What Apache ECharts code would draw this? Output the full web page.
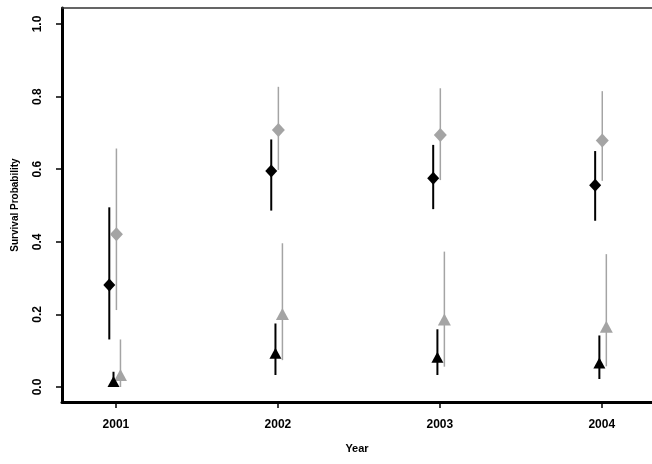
<!DOCTYPE html>
<html>
<head>
<meta charset="utf-8">
<script src="https://cdn.jsdelivr.net/npm/echarts@6/dist/echarts.min.js"></script>
<style>html,body{margin:0;padding:0;background:#fff;}#c{width:652px;height:464px;}</style>
</head>
<body>
<div id="c"></div>
<script>
const years = [2001, 2002, 2003, 2004];
const yTicks = [0, 0.2, 0.4, 0.6, 0.8, 1.0];

// black diamonds
const blackDiamond = [0.281, 0.595, 0.575, 0.556];
const blackDiamondLow = [0.131, 0.486, 0.490, 0.458];
const blackDiamondHigh = [0.495, 0.682, 0.667, 0.650];
// grey diamonds
const greyDiamond = [0.421, 0.708, 0.694, 0.679];
const greyDiamondLow = [0.212, 0.598, 0.570, 0.568];
const greyDiamondHigh = [0.657, 0.827, 0.823, 0.815];
// black triangles
const blackTriangle = [0.015, 0.093, 0.082, 0.066];
const blackTriangleLow = [0.0, 0.033, 0.033, 0.022];
const blackTriangleHigh = [0.042, 0.175, 0.159, 0.142];
// grey triangles
const greyTriangle = [0.033, 0.201, 0.186, 0.166];
const greyTriangleLow = [0.0, 0.074, 0.056, 0.057];
const greyTriangleHigh = [0.131, 0.396, 0.373, 0.366];

const GREY = '#a4a4a4';
const FONT = 'Liberation Sans';

function errSeries(name, offset, low, high, color, width) {
  return {
    name: name + ' CI', type: 'custom',
    data: years.map((y, i) => [y + offset, low[i], high[i]]),
    renderItem: function (params, api) {
      const p1 = api.coord([api.value(0), api.value(1)]);
      const p2 = api.coord([api.value(0), api.value(2)]);
      return { type: 'line', shape: { x1: p1[0], y1: p1[1], x2: p2[0], y2: p2[1] },
        style: { stroke: color, lineWidth: width } };
    },
    silent: true, z: 2
  };
}
function ptSeries(name, offset, vals, color, symbol, size) {
  return {
    name: name, type: 'scatter', symbol: symbol, symbolSize: size,
    data: years.map((y, i) => [y + offset, vals[i]]),
    itemStyle: { color: color, opacity: 1 }, z: 3
  };
}

const chart = echarts.init(document.getElementById('c'), null, { renderer: 'canvas' });
chart.setOption({
  animation: false,
  backgroundColor: '#fff',
  grid: { left: 62, right: 0, top: 8, bottom: 62, containLabel: false },
  xAxis: [{
    type: 'value', min: 2000.667, max: 2004.31,
    axisLine: { show: true, onZero: false, lineStyle: { color: '#000', width: 3 } },
    axisTick: { show: true, customValues: years, length: 6, lineStyle: { color: '#000', width: 1.5 } },
    axisLabel: { customValues: years, formatter: v => String(Math.round(v)), color: '#000',
      fontFamily: FONT, fontSize: 12, fontWeight: 'bold', margin: 17 },
    splitLine: { show: false },
    name: 'Year', nameLocation: 'middle', nameGap: 41,
    nameTextStyle: { color: '#000', fontFamily: FONT, fontSize: 11, fontWeight: 'bold' }
  }, {
    type: 'value', position: 'top', min: 2000.667, max: 2004.31,
    axisLine: { show: true, onZero: false, lineStyle: { color: '#333', width: 1.5 } },
    axisTick: { show: false }, axisLabel: { show: false }, splitLine: { show: false }
  }],
  yAxis: {
    type: 'value', min: -0.0413, max: 1.0441,
    axisLine: { show: true, onZero: false, lineStyle: { color: '#000', width: 3 } },
    axisTick: { show: true, customValues: yTicks, length: 6, lineStyle: { color: '#000', width: 1.5 } },
    axisLabel: { customValues: yTicks, formatter: v => v.toFixed(1), rotate: 90, color: '#000',
      fontFamily: FONT, fontSize: 12, fontWeight: 'bold', margin: 18 },
    splitLine: { show: false },
    name: 'Survival Probability', nameLocation: 'middle', nameGap: 42,
    nameTextStyle: { color: '#000', fontFamily: FONT, fontSize: 10, fontWeight: 'bold' }
  },
  series: [
    errSeries('Grey diamond', 0.003, greyDiamondLow, greyDiamondHigh, GREY, 1.5),
    errSeries('Grey triangle', 0.028, greyTriangleLow, greyTriangleHigh, GREY, 1.5),
    ptSeries('Grey diamond', 0.003, greyDiamond, GREY, 'diamond', [13, 14]),
    ptSeries('Grey triangle', 0.028, greyTriangle, GREY, 'triangle', [13, 12]),
    errSeries('Black diamond', -0.041, blackDiamondLow, blackDiamondHigh, '#000', 2),
    errSeries('Black triangle', -0.015, blackTriangleLow, blackTriangleHigh, '#000', 2),
    ptSeries('Black diamond', -0.041, blackDiamond, '#000', 'diamond', [12, 13]),
    ptSeries('Black triangle', -0.015, blackTriangle, '#000', 'triangle', [12, 11])
  ]
});
</script>
</body>
</html>
